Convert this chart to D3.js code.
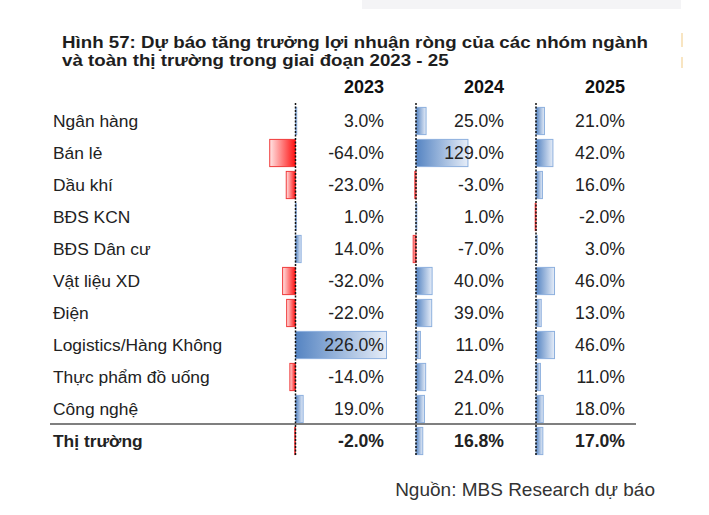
<!DOCTYPE html>
<html>
<head>
<meta charset="utf-8">
<script src="https://cdn.jsdelivr.net/npm/d3@7"></script>
<style>
  html, body { margin: 0; padding: 0; background: #ffffff; }
  svg { display: block; font-family: "Liberation Sans", Arial, sans-serif; }
</style>
</head>
<body>
<svg id="chart" width="709" height="515"></svg>
<script>
// ---- data ----
const categories = ["Ngân hàng", "Bán lẻ", "Dầu khí", "BĐS KCN", "BĐS Dân cư", "Vật liệu XD", "Điện", "Logistics/Hàng Không", "Thực phẩm đồ uống", "Công nghệ"];
const years = ["2023", "2024", "2025"];
const growth2023 = [3.0, -64.0, -23.0, 1.0, 14.0, -32.0, -22.0, 226.0, -14.0, 19.0];
const growth2024 = [25.0, 129.0, -3.0, 1.0, -7.0, 40.0, 39.0, 11.0, 24.0, 21.0];
const growth2025 = [21.0, 42.0, 16.0, -2.0, 3.0, 46.0, 13.0, 46.0, 11.0, 18.0];
const marketLabel = "Thị trường";
const marketGrowth = [-2.0, 16.8, 17.0];
const titleLines = ["Hình 57: Dự báo tăng trưởng lợi nhuận ròng của các nhóm ngành", "và toàn thị trường trong giai đoạn 2023 - 25"];
const sourceText = "Nguồn: MBS Research dự báo";

// ---- layout ----
const svg = d3.select("#chart");
const rows = categories.concat([marketLabel]);
const series = [growth2023, growth2024, growth2025].map((arr, j) => arr.concat([marketGrowth[j]]));
const fmt = v => d3.format(".1f")(v).replace("\u2212", "-") + "%";

const y = d3.scaleBand().domain(rows).range([105, 457]).paddingInner(0.15).paddingOuter(0.075);
const axisX = d3.scaleOrdinal().domain(years).range([295.5, 416, 536]);
const valueX = d3.scaleOrdinal().domain(years).range([384, 504, 625]);
const len = d3.scaleLinear().domain([0, 226]).range([0, 91]);

const defs = svg.append("defs");
const gb = defs.append("linearGradient").attr("id", "gBlue").attr("x1", "0").attr("x2", "1").attr("y1", "0").attr("y2", "0");
gb.append("stop").attr("offset", "0").attr("stop-color", "#5584c2");
gb.append("stop").attr("offset", "1").attr("stop-color", "#e6edf8");
const gr = defs.append("linearGradient").attr("id", "gRed").attr("x1", "0").attr("x2", "1").attr("y1", "0").attr("y2", "0");
gr.append("stop").attr("offset", "0").attr("stop-color", "#ffe4e4");
gr.append("stop").attr("offset", "1").attr("stop-color", "#ff1010");

// decorative top box and side marks
svg.append("rect").attr("x", 362).attr("y", 0).attr("width", 319).attr("height", 9).attr("fill", "#f4f4f6");
svg.append("line").attr("x1", 682).attr("x2", 682).attr("y1", 33).attr("y2", 47).attr("stroke", "#f6dcae").attr("stroke-width", 1.5);
svg.append("line").attr("x1", 682).attr("x2", 682).attr("y1", 57).attr("y2", 68).attr("stroke", "#f6dcae").attr("stroke-width", 1.5);

// title (horizontally stretched like the reference)
svg.append("g").selectAll("text").data(titleLines).join("text")
  .attr("transform", (d, i) => `translate(62,${47.5 + i * 18.5}) scale(1.17,1)`)
  .attr("font-size", 16).attr("font-weight", "bold").attr("fill", "#1e1e1e")
  .text(d => d);

// year headers
svg.append("g").selectAll("text").data(years).join("text")
  .attr("x", d => valueX(d)).attr("y", 93)
  .attr("text-anchor", "end").attr("font-size", 18).attr("font-weight", "bold").attr("fill", "#111")
  .text(d => d);

// bars
years.forEach((yr, j) => {
  const g = svg.append("g");
  g.selectAll("rect").data(series[j].map((v, i) => ({ v, r: rows[i] }))).join("rect")
    .attr("x", d => d.v >= 0 ? axisX(yr) : axisX(yr) - len(-d.v))
    .attr("y", d => y(d.r))
    .attr("width", d => Math.max(0.8, len(Math.abs(d.v))))
    .attr("height", y.bandwidth())
    .attr("fill", d => d.v >= 0 ? "url(#gBlue)" : "url(#gRed)")
    .attr("stroke", d => d.v >= 0 ? "#8db0de" : "#f03a3a")
    .attr("stroke-width", 1);
  // dashed axis
  g.append("line")
    .attr("x1", axisX(yr)).attr("x2", axisX(yr))
    .attr("y1", 103).attr("y2", 456)
    .attr("stroke", "#111").attr("stroke-width", 1.5).attr("stroke-dasharray", "2,1.5");
});

// row labels
svg.append("g").selectAll("text").data(rows).join("text")
  .attr("x", 53).attr("y", d => y(d) + y.bandwidth() / 2 + 6)
  .attr("font-size", 17.4).attr("fill", "#222")
  .attr("font-weight", d => d === marketLabel ? "bold" : "normal")
  .text(d => d);

// values
years.forEach((yr, j) => {
  svg.append("g").selectAll("text").data(series[j].map((v, i) => ({ v, r: rows[i] }))).join("text")
    .attr("x", valueX(yr)).attr("y", d => y(d.r) + y.bandwidth() / 2 + 6)
    .attr("text-anchor", "end").attr("font-size", 17.6).attr("fill", "#222")
    .attr("font-weight", d => d.r === marketLabel ? "bold" : "normal")
    .text(d => fmt(d.v));
});

// separator line above market row
svg.append("line").attr("x1", 50).attr("x2", 636)
  .attr("y1", 424).attr("y2", 424).attr("stroke", "#555").attr("stroke-width", 1.5);

// source
svg.append("text").attr("x", 655).attr("y", 496).attr("text-anchor", "end")
  .attr("font-size", 19).attr("fill", "#333").text(sourceText);
</script>
</body>
</html>
